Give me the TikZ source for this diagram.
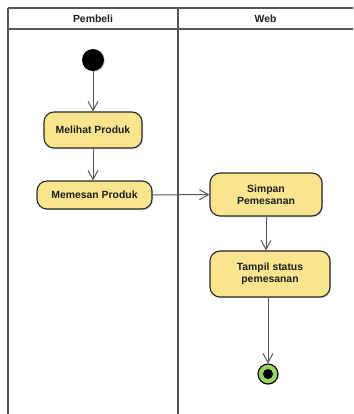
\documentclass[tikz,border=0pt]{standalone}
\usepackage{fontspec}
\setmainfont{Liberation Sans}
\usetikzlibrary{arrows.meta,shadows}
\definecolor{actfill}{RGB}{250,229,143}
\definecolor{endfill}{RGB}{155,210,100}
\definecolor{lanegray}{RGB}{85,85,85}
\definecolor{txt}{RGB}{30,30,30}
\tikzset{
  lane/.style={draw=lanegray, line width=1.5pt},
  act/.style={draw=black!85, line width=1.1pt, fill=actfill, rounded corners=10pt,
    align=center, font=\fontsize{10.4}{12}\selectfont\bfseries, text=txt, inner sep=0pt,
    drop shadow={shadow xshift=1.2pt, shadow yshift=-1.2pt, opacity=0.3}},
  flow/.style={draw=lanegray, line width=1pt, -{Straight Barb[length=9pt,width=10pt,line width=1pt]}},
  lanetitle/.style={font=\fontsize{10.4}{12}\selectfont\bfseries, text=txt}
}
\begin{document}
\begin{tikzpicture}[x=1pt,y=-1pt]
\useasboundingbox (0,0) rectangle (353,414);
% swimlanes
\draw[lane] (8,8) -- (353,8);
\draw[lane] (8,29) -- (353,29);
\draw[lane] (8,8) -- (8,414);
\draw[lane] (178,8) -- (178,414);
\node[lanetitle] (t1) at (93,18.5) {Pembeli};
\node[lanetitle] (t2) at (265.5,18.5) {Web};
% nodes
\node[circle, fill=black, minimum size=22pt, inner sep=0pt,
  drop shadow={shadow xshift=1pt, shadow yshift=-1pt, opacity=0.3}] (start) at (93,60) {};
\node[act, minimum width=98pt, minimum height=36pt] (melihat) at (93,130) {Melihat Produk};
\node[act, minimum width=115pt, minimum height=28pt] (memesan) at (94.5,195) {Memesan Produk};
\node[act, minimum width=112pt, minimum height=43pt] (simpan) at (266,194.5) {Simpan\\Pemesanan};
\node[act, minimum width=120pt, minimum height=46pt] (tampil) at (270,274) {Tampil status\\pemesanan};
\node[circle, draw=black, line width=1.1pt, fill=endfill, minimum size=20pt, inner sep=0pt,
  drop shadow={shadow xshift=1pt, shadow yshift=-1pt, opacity=0.3}] (end) at (268,374) {};
\node[circle, fill=black, minimum size=10pt, inner sep=0pt] (enddot) at (end.center) {};
% flows
\draw[flow] (start) -- (melihat);
\draw[flow] (melihat) -- (memesan.north -| melihat);
\draw[flow] (memesan) -- (simpan);
\draw[flow] (simpan.south) -- (simpan.south |- tampil.north);
\draw[flow] (tampil.south -| end) -- (end);
\end{tikzpicture}
\end{document}
